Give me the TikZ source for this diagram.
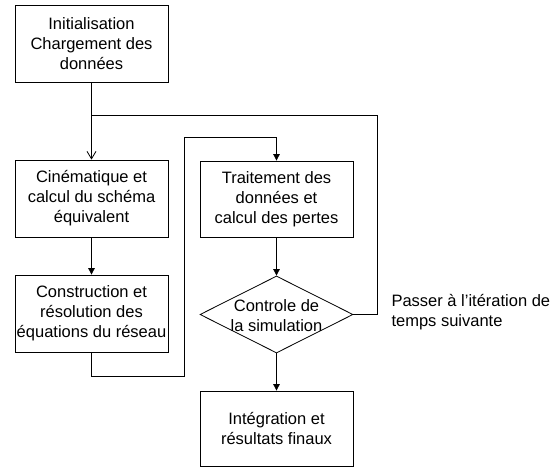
\documentclass[tikz,border=0pt]{standalone}
\usepackage{fontspec}
\setmainfont{Liberation Sans}
\usetikzlibrary{arrows.meta,shapes.geometric}
\begin{document}
\begin{tikzpicture}[x=1pt,y=-1pt,
  every node/.style={font=\fontsize{16.5}{20}\selectfont},
  box/.style={draw, line width=0.8pt, rectangle, minimum width=153pt, inner sep=0pt, align=center},
  conn/.style={line width=0.8pt},
  tri/.style={conn, -{Triangle[length=6.5pt,width=6.5pt]}},
  vee/.style={conn, -{Straight Barb[length=7.5pt,width=9pt,line width=0.8pt]}}
]
\useasboundingbox (0,0) rectangle (555,468);
\node[box, minimum height=77pt] (b1) at (91.5,43.5) {Initialisation\\Chargement des\\données};
\node[box, minimum height=77pt] (b2) at (91.5,198.5) {Cinématique et\\calcul du schéma\\équivalent};
\node[box, minimum height=77pt] (b3) at (91.5,313.5) {Construction et\\résolution des\\équations du réseau};
\node[box, minimum height=76pt] (b4) at (276.5,199) {Traitement des\\données et\\calcul des pertes};
\node[draw, line width=0.8pt, diamond, minimum width=153pt, minimum height=77pt, inner sep=0pt] (d) at (276.5,314.5) {};
\node (dt) at (276.5,316) [align=center] {Controle de\\la simulation};
\node[box, minimum height=75pt] (b5) at (276.5,428.5) {Intégration et\\résultats finaux};
\node[anchor=west, align=left] (lbl) at (388,312) {Passer à l’itération de\\temps suivante};
\coordinate (j1) at (91.5,115);
\coordinate (r1) at (377,115);
\coordinate (l1) at (184,376);
\coordinate (l2) at (184,137);
\draw[vee] (b1.south) -- (b2.north);
\draw[conn] (d.east) -| (r1) -- (j1);
\draw[tri] (b2.south) -- (b3.north);
\draw[tri] (b3.south) |- (l1) -- (l2) -| (b4.north);
\draw[tri] (b4.south) -- (d.north);
\draw[tri] (d.south) -- (b5.north);
\end{tikzpicture}
\end{document}
